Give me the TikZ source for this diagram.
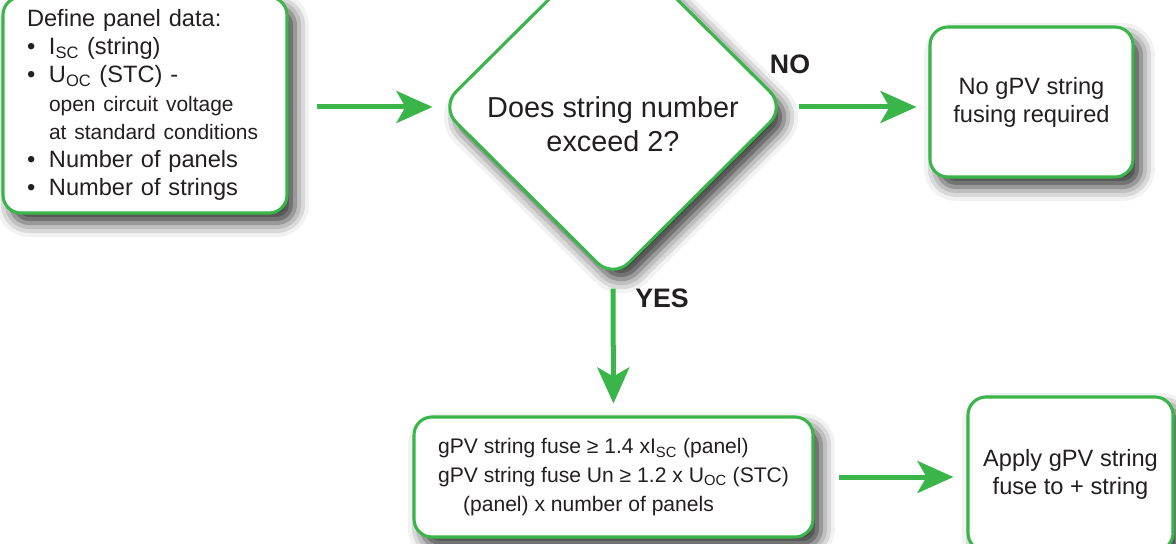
\documentclass[tikz,border=0pt]{standalone}
\usepackage{fontspec}
\setmainfont{Liberation Sans}
\usetikzlibrary{positioning}
\usetikzlibrary{arrows.meta,shapes.geometric,shadows.blur}
\definecolor{pvgreen}{RGB}{57,181,74}
\definecolor{inkgrey}{RGB}{35,31,32}
\newdimen\pxu \pxu=0.025cm
\tikzset{%
  softshadow/.style = {blur shadow={shadow xshift=8\pxu,shadow yshift=-10\pxu,
        shadow blur radius=14\pxu,shadow opacity=80}},
  box/.style = {rectangle,draw=pvgreen,line width=2.2pt,fill=white,
        rounded corners=18\pxu,text=inkgrey,softshadow},
  question/.style = {diamond,draw=pvgreen,line width=2.2pt,fill=white,
        rounded corners=22\pxu,softshadow},
  flow/.style = {draw=pvgreen,line width=0.125cm,
        -{Stealth[length=0.9cm,width=0.8cm,inset=0.225cm]}},
  answer/.style = {font=\fontsize{19}{22}\selectfont\bfseries,text=inkgrey}
}

\begin{document}
\begin{tikzpicture}[x=0.025cm,y=-0.025cm]
                    \useasboundingbox (0,0) rectangle (1176,544);
                    \node[box,minimum width=284\pxu,minimum height=216\pxu,
                          text width=236\pxu,align=left,inner sep=0pt,
                          font=\fontsize{16.8}{20}\selectfont] (define) at (145,105)
                        {Define panel data:\\
                         \makebox[22\pxu][l]{\textbullet}I\textsubscript{SC} (string)\\
                         \makebox[22\pxu][l]{\textbullet}U\textsubscript{OC} (STC) -\\
                         \hspace*{22\pxu}{\fontsize{14.9}{18.5}\selectfont open circuit voltage}\\
                         \hspace*{22\pxu}{\fontsize{14.9}{18.5}\selectfont at standard conditions}\\
                         \makebox[22\pxu][l]{\textbullet}Number of panels\\
                         \makebox[22\pxu][l]{\textbullet}Number of strings};
                    \node[question,minimum width=346\pxu,minimum height=344\pxu] (decision) at (613,107) {};
                    \node[text=inkgrey,align=center,font=\fontsize{20.5}{24}\selectfont]
                        (qtext) at (613,124) {Does string number\\exceed 2?};
                    \node[box,minimum width=203\pxu,minimum height=150\pxu,align=center,
                          font=\fontsize{16.8}{20}\selectfont] (nofuse) at (1031.5,102)
                        {No gPV string\\fusing required};
                    \node[box,minimum width=399\pxu,minimum height=120\pxu,align=left,
                          font=\fontsize{15}{20.3}\selectfont] (fuse) at (613.5,477)
                        {gPV string fuse \char"2265{} 1.4 xI\textsubscript{SC} (panel)\\
                         gPV string fuse Un \char"2265{} 1.2 x U\textsubscript{OC} (STC)\\
                         \hspace*{25\pxu}(panel) x number of panels};
                    \node[box,minimum width=205\pxu,minimum height=154\pxu,align=center,
                          font=\fontsize{16.8}{20}\selectfont] (apply) at (1070.5,474)
                        {Apply gPV string\\fuse to + string};

                    \node[answer] (no) at (790,64) {NO};
                    \node[answer] (yes) at (662,298) {YES};

                    \draw[flow,shorten <=0.7cm,shorten >=0.15cm] (define.east |- decision.west) -- (decision.west);
                    \draw[flow,shorten <=0.275cm,shorten >=0.3cm] (decision.east) -- (decision.east -| nofuse.west);
                    \draw[flow,shorten <=0.2cm,shorten >=0.3cm] (decision.south) -- (fuse.north);
                    \draw[flow,shorten <=0.6cm,shorten >=0.325cm] (fuse.east) -- (fuse.east -| apply.west);
                 \end{tikzpicture}
\end{document}
